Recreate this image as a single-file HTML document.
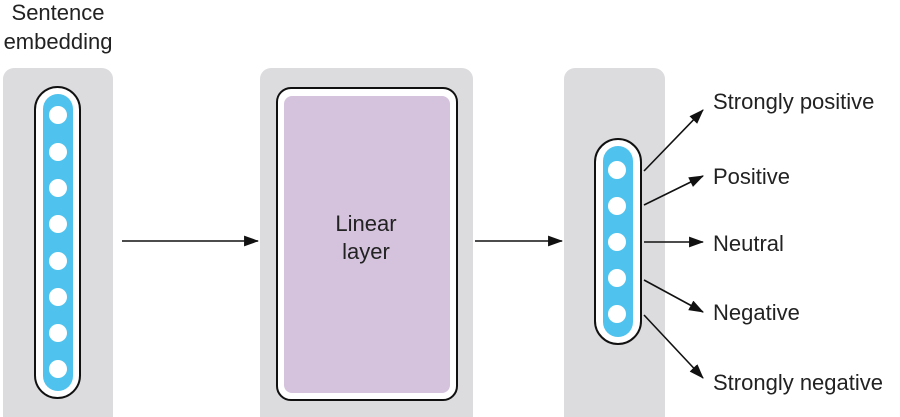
<!DOCTYPE html>
<html><head><style>
html,body{margin:0;background:#fff;overflow:hidden;width:900px;height:417px;}
svg{display:block;font-family:"Liberation Sans",Arial,sans-serif;}
</style></head><body>
<svg width="900" height="417" viewBox="0 0 900 417" xmlns="http://www.w3.org/2000/svg">
<defs><marker id="a" viewBox="0 0 14 10" refX="13" refY="5" markerWidth="15" markerHeight="11" markerUnits="userSpaceOnUse" orient="auto"><path d="M0,0 L14,5 L0,10 z" fill="#111"/></marker></defs>
<text x="58" y="20" font-size="22" text-anchor="middle" fill="#222">Sentence</text>
<text x="58" y="49" font-size="22" text-anchor="middle" fill="#222">embedding</text>
<path d="M3,417 V79 a11,11 0 0 1 11,-11 H102 a11,11 0 0 1 11,11 V417 z" fill="#dcdcdf"/>
<path d="M260,417 V79 a11,11 0 0 1 11,-11 H462 a11,11 0 0 1 11,11 V417 z" fill="#dcdcdf"/>
<path d="M564,417 V79 a11,11 0 0 1 11,-11 H654 a11,11 0 0 1 11,11 V417 z" fill="#dcdcdf"/>
<rect x="35" y="87" width="45" height="311" rx="22.5" fill="#fff" stroke="#111" stroke-width="2"/>
<rect x="43" y="94" width="30" height="297" rx="15" fill="#4fc3ee"/>
<g fill="#fff"><circle cx="58" cy="115" r="9"/><circle cx="58" cy="152" r="9"/><circle cx="58" cy="188" r="9"/><circle cx="58" cy="224" r="9"/><circle cx="58" cy="261" r="9"/><circle cx="58" cy="297" r="9"/><circle cx="58" cy="333" r="9"/><circle cx="58" cy="369" r="9"/></g>
<rect x="277" y="88" width="180" height="312" rx="14" fill="#fff" stroke="#111" stroke-width="2"/>
<rect x="284" y="96" width="166" height="297" rx="8" fill="#d5c3de"/>
<text x="366" y="231" font-size="22" text-anchor="middle" fill="#222">Linear</text>
<text x="366" y="259" font-size="22" text-anchor="middle" fill="#222">layer</text>
<rect x="595" y="139" width="46" height="205" rx="23" fill="#fff" stroke="#111" stroke-width="2"/>
<rect x="603" y="146" width="30" height="191" rx="15" fill="#4fc3ee"/>
<g fill="#fff"><circle cx="617" cy="170" r="9"/><circle cx="617" cy="206" r="9"/><circle cx="617" cy="242" r="9"/><circle cx="617" cy="278" r="9"/><circle cx="617" cy="314" r="9"/></g>
<g stroke="#111" stroke-width="1.6" marker-end="url(#a)">
<line x1="122" y1="241" x2="258" y2="241"/>
<line x1="475" y1="241" x2="562" y2="241"/>
<line x1="644" y1="171" x2="703" y2="110"/>
<line x1="644" y1="205" x2="703" y2="176"/>
<line x1="644" y1="242" x2="703" y2="242"/>
<line x1="644" y1="280" x2="703" y2="312"/>
<line x1="644" y1="315" x2="703" y2="378"/>
</g>
<g font-size="22" fill="#222">
<text x="713" y="109">Strongly positive</text>
<text x="713" y="184">Positive</text>
<text x="713" y="251">Neutral</text>
<text x="713" y="320">Negative</text>
<text x="713" y="390">Strongly negative</text>
</g>
</svg>
</body></html>
